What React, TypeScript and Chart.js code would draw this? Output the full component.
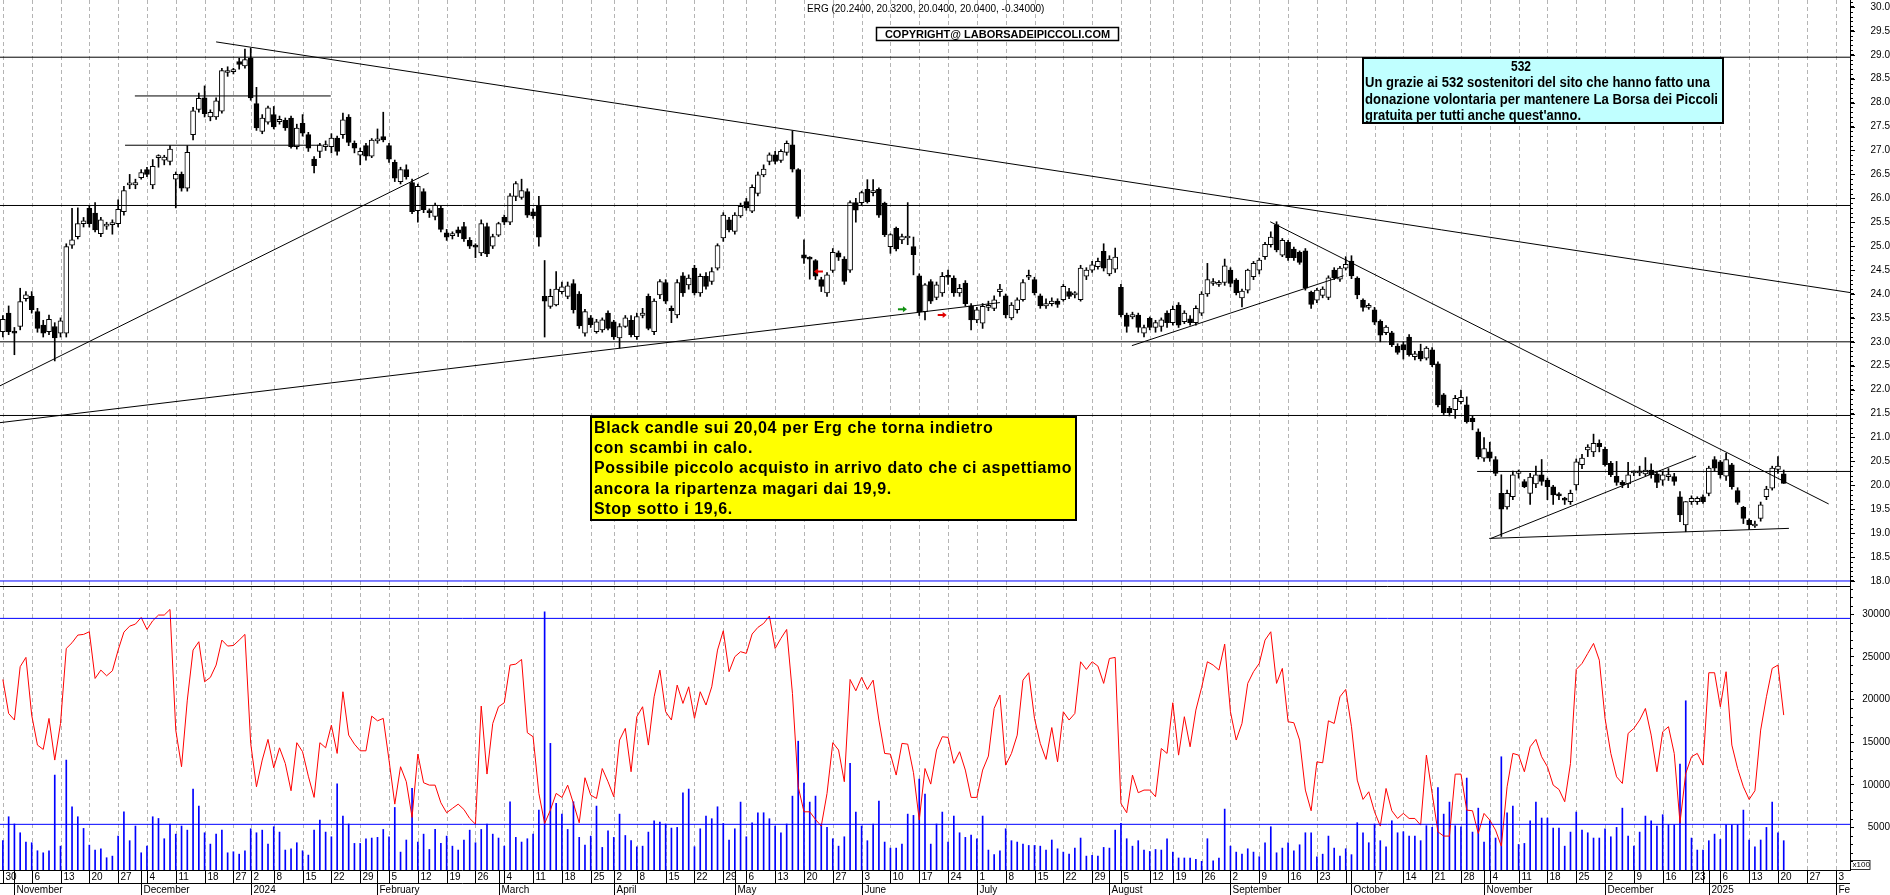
import React, { useEffect, useRef } from 'react';
import { Chart, registerables } from 'chart.js';
Chart.register(...registerables);

// ---------- calendar (Borsa Italiana trading days) ----------
const FIRST_DAY = [2023, 9, 30];
const LAST_SLOT_DAY = [2025, 1, 5];
const HOLIDAYS = ['2023-12-25', '2023-12-26', '2024-01-01', '2024-03-29', '2024-04-01', '2024-05-01', '2024-08-15', '2024-12-24', '2024-12-25', '2024-12-26', '2024-12-31', '2025-01-01'];
const MONTH_NAMES = ['January', 'February', 'March', 'April', 'May', 'June', 'July', 'August', 'September', 'October', 'November', 'December'];
const LAST_MONTH_SHORT = 'Feb';

// ---------- price data (OHLC) ----------
const OPEN = [
  23.21, 23.6, 23.2, 23.32, 23.9, 23.95, 23.63, 23.35, 23.21, 23.32,
  23.18, 23.18, 25.02, 25.2, 25.47, 25.79, 25.69, 25.26, 25.42, 25.45,
  25.47, 25.72, 26.28, 26.28, 26.43, 26.6, 26.28, 26.85, 26.8, 26.77,
  26.4, 26.5, 26.21, 27.33, 27.86, 28.1, 27.7, 27.7, 27.82, 28.63,
  28.65, 28.86, 28.77, 28.93, 27.98, 27.4, 27.59, 27.75, 27.6, 27.63,
  27.68, 27.08, 27.57, 27.33, 26.82, 26.98, 27.08, 27.08, 27.26, 27.33,
  27.7, 27.15, 26.9, 27.1, 26.88, 27.2, 27.29, 27.1, 26.75, 26.35,
  26.6, 26.33, 25.74, 26.14, 25.72, 25.62, 25.79, 25.28, 25.22, 25.34,
  25.41, 25.12, 25.0, 24.86, 25.41, 25.0, 25.23, 25.6, 25.5, 26.04,
  26.02, 26.14, 25.72, 25.84, 23.95, 23.74, 23.77, 24.05, 23.95, 24.22,
  24.0, 23.18, 23.5, 23.21, 23.25, 23.6, 23.42, 23.08, 23.32, 23.45,
  23.11, 23.55, 23.95, 23.21, 23.98, 24.24, 23.7, 23.56, 24.38, 24.19,
  24.54, 24.02, 24.37, 24.26, 24.54, 25.17, 25.55, 25.31, 25.63, 25.93,
  25.73, 26.1, 26.49, 26.77, 26.91, 26.79, 26.96, 27.12, 26.6, 24.82,
  24.75, 24.7, 24.3, 24.02, 24.49, 24.86, 24.73, 24.5, 25.91, 25.91,
  26.19, 26.12, 26.19, 25.9, 24.99, 25.37, 25.13, 25.17, 24.99, 24.38,
  23.63, 24.26, 23.93, 24.02, 24.37, 24.33, 24.02, 24.23, 23.75, 23.46,
  23.39, 23.72, 23.7, 24.05, 23.96, 23.5, 23.67, 23.88, 24.35, 24.3,
  23.96, 23.75, 23.8, 23.85, 23.88, 24.05, 23.98, 23.88, 24.37, 24.5,
  24.57, 24.89, 24.42, 24.52, 24.14, 23.56, 23.52, 23.56, 23.18, 23.49,
  23.3, 23.32, 23.6, 23.4, 23.77, 23.42, 23.48, 23.4, 23.6, 24.0,
  24.22, 24.2, 24.24, 24.5, 24.29, 23.92, 24.08, 24.36, 24.5, 24.78,
  25.03, 25.45, 24.81, 25.08, 24.94, 24.87, 24.9, 24.04, 23.87, 23.97,
  23.93, 24.5, 24.31, 24.54, 24.69, 24.33, 23.87, 23.72, 23.67, 23.43,
  23.19, 23.19, 22.91, 22.94, 23.1, 22.69, 22.8, 22.66, 22.83, 22.54,
  21.89, 21.61, 21.58, 21.75, 21.68, 21.4, 21.12, 20.57, 20.7, 20.54,
  19.83, 19.55, 19.76, 20.25, 20.08, 19.83, 20.03, 20.22, 20.11, 19.97,
  19.8, 19.7, 19.66, 20.01, 20.43, 20.74, 20.7, 20.88, 20.75, 20.46,
  20.19, 20.06, 20.03, 20.26, 20.26, 20.24, 20.32, 20.24, 20.11, 20.18,
  20.18, 19.76, 19.17, 19.66, 19.66, 19.76, 19.83, 20.54, 20.49, 20.19,
  20.43, 19.89, 19.54, 19.27, 19.15, 19.31, 19.76, 19.94, 20.33, 20.24,
];
const HIGH = [
  23.55, 23.75, 23.3, 24.12, 24.05, 24.05, 23.7, 23.45, 23.56, 23.4,
  23.5, 25.05, 25.79, 25.8, 25.6, 25.85, 25.91, 25.6, 25.5, 25.55,
  25.97, 26.25, 26.5, 26.4, 26.6, 26.65, 26.81, 26.91, 26.9, 27.1,
  26.55, 26.55, 27.1, 27.9, 28.2, 28.35, 27.85, 28.1, 28.72, 28.75,
  28.72, 28.93, 29.12, 29.14, 28.32, 27.75, 27.93, 27.92, 27.72, 27.68,
  27.72, 27.55, 27.75, 27.38, 26.87, 27.15, 27.2, 27.35, 27.3, 27.78,
  27.75, 27.2, 27.05, 27.15, 27.25, 27.45, 27.8, 27.15, 26.8, 26.65,
  26.7, 26.4, 26.3, 26.2, 25.78, 25.9, 25.85, 25.35, 25.3, 25.4,
  25.5, 25.18, 25.05, 25.55, 25.48, 25.25, 25.5, 25.65, 26.1, 26.35,
  26.4, 26.2, 25.78, 26.04, 24.7, 24.1, 24.47, 24.25, 24.25, 24.3,
  24.05, 23.68, 23.55, 23.47, 23.5, 23.65, 23.45, 23.38, 23.55, 23.55,
  23.6, 23.7, 24.0, 23.9, 24.3, 24.3, 23.75, 24.3, 24.45, 24.4,
  24.6, 24.42, 24.45, 24.55, 25.05, 25.7, 25.6, 25.7, 25.9, 26.0,
  26.28, 26.55, 26.7, 26.95, 26.98, 27.02, 27.2, 27.41, 26.62, 25.13,
  24.78, 24.72, 24.35, 24.45, 24.95, 24.9, 24.78, 25.95, 26.0, 26.15,
  26.39, 26.39, 26.22, 25.92, 25.26, 25.4, 25.25, 25.91, 25.19, 24.42,
  24.22, 24.3, 24.25, 24.45, 24.5, 24.38, 24.2, 24.28, 23.8, 23.72,
  23.8, 23.85, 23.96, 24.2, 24.0, 23.82, 23.92, 24.3, 24.5, 24.35,
  24.0, 23.9, 23.92, 23.9, 24.2, 24.12, 24.05, 24.6, 24.55, 24.68,
  24.75, 25.05, 24.8, 24.96, 24.2, 23.6, 23.62, 23.6, 23.35, 23.52,
  23.45, 23.5, 23.65, 23.75, 23.82, 23.65, 23.55, 23.75, 24.05, 24.64,
  24.32, 24.28, 24.73, 24.55, 24.32, 24.1, 24.52, 24.68, 24.75, 25.08,
  25.3, 25.51, 25.16, 25.12, 24.98, 24.9, 24.95, 24.06, 24.12, 24.15,
  24.38, 24.55, 24.58, 24.78, 24.8, 24.36, 23.9, 23.8, 23.72, 23.46,
  23.34, 23.22, 22.96, 23.0, 23.15, 22.8, 22.95, 22.9, 22.88, 22.58,
  21.92, 21.65, 21.88, 21.99, 21.85, 21.45, 21.18, 21.0, 20.9, 20.6,
  20.22, 19.9, 20.3, 20.32, 20.12, 20.25, 20.4, 20.54, 20.15, 20.0,
  19.85, 19.75, 19.9, 20.55, 20.65, 20.85, 21.07, 20.95, 20.8, 20.5,
  20.5, 20.1, 20.48, 20.3, 20.4, 20.58, 20.45, 20.3, 20.3, 20.35,
  20.25, 19.87, 19.66, 19.78, 19.76, 19.8, 20.4, 20.6, 20.52, 20.67,
  20.46, 19.95, 19.56, 19.3, 19.25, 19.65, 19.98, 20.4, 20.6, 20.32,
];
const LOW = [
  23.1, 23.15, 22.73, 23.25, 23.85, 23.6, 23.2, 23.1, 23.15, 22.6,
  23.1, 23.1, 24.95, 25.15, 25.4, 25.4, 25.3, 25.2, 25.35, 25.25,
  25.4, 25.65, 26.2, 26.2, 26.4, 26.45, 26.2, 26.65, 26.7, 26.7,
  25.8, 26.15, 26.15, 27.22, 27.8, 27.7, 27.62, 27.65, 27.78, 28.55,
  28.6, 28.7, 28.72, 28.05, 27.42, 27.35, 27.55, 27.45, 27.55, 27.42,
  27.05, 27.03, 27.3, 26.98, 26.53, 26.85, 27.0, 26.95, 26.9, 27.25,
  27.1, 26.95, 26.7, 26.8, 26.85, 27.15, 27.18, 26.75, 26.35, 26.3,
  26.4, 25.68, 25.5, 25.7, 25.6, 25.55, 25.3, 25.12, 25.15, 25.2,
  25.1, 24.95, 24.76, 24.8, 24.78, 24.95, 25.2, 25.45, 25.45, 25.95,
  25.98, 25.6, 25.58, 25.0, 23.1, 23.7, 23.75, 24.0, 23.9, 23.6,
  23.28, 23.12, 23.3, 23.18, 23.2, 23.25, 23.05, 22.87, 23.3, 23.1,
  23.05, 23.5, 23.25, 23.15, 23.9, 23.8, 23.4, 23.5, 23.95, 24.1,
  23.98, 23.95, 24.1, 24.2, 24.5, 25.1, 25.3, 25.25, 25.6, 25.75,
  25.7, 26.05, 26.45, 26.7, 26.72, 26.75, 26.9, 26.55, 25.58, 24.64,
  24.31, 24.3, 24.05, 23.95, 24.45, 24.7, 24.2, 24.45, 25.5, 25.85,
  25.9, 26.05, 25.6, 25.2, 24.85, 24.9, 25.05, 25.03, 24.4, 23.55,
  23.46, 23.8, 23.88, 23.95, 24.2, 23.95, 23.95, 23.75, 23.25, 23.4,
  23.28, 23.65, 23.65, 23.95, 23.5, 23.46, 23.6, 23.85, 24.3, 23.98,
  23.7, 23.7, 23.75, 23.72, 23.85, 23.9, 23.92, 23.85, 24.3, 24.45,
  24.52, 24.48, 24.38, 24.45, 23.52, 23.2, 23.48, 23.2, 23.1, 23.25,
  23.2, 23.22, 23.3, 23.35, 23.3, 23.38, 23.35, 23.35, 23.55, 23.95,
  24.18, 24.16, 24.18, 24.15, 23.98, 23.73, 24.02, 24.3, 24.42, 24.72,
  24.98, 24.88, 24.78, 24.7, 24.7, 24.62, 24.08, 23.7, 23.82, 23.92,
  23.88, 24.3, 24.26, 24.5, 24.32, 23.9, 23.64, 23.68, 23.36, 23.0,
  23.15, 22.9, 22.74, 22.64, 22.7, 22.62, 22.6, 22.62, 22.48, 21.64,
  21.48, 21.45, 21.4, 21.7, 21.3, 21.16, 20.55, 20.5, 20.5, 20.2,
  18.93, 19.5, 19.7, 20.15, 19.95, 19.6, 19.95, 20.0, 19.7, 19.6,
  19.7, 19.6, 19.6, 19.9, 20.35, 20.6, 20.6, 20.7, 20.4, 20.18,
  20.0, 19.95, 19.95, 20.2, 20.2, 20.2, 20.15, 19.95, 20.0, 20.1,
  20.0, 19.24, 19.03, 19.6, 19.6, 19.62, 19.78, 20.3, 20.15, 20.1,
  19.92, 19.6, 19.2, 19.08, 19.12, 19.25, 19.7, 19.9, 20.25, 20.04,
];
const CLOSE = [
  23.47, 23.21, 23.18, 23.84, 23.98, 23.67, 23.28, 23.18, 23.47, 23.08,
  23.44, 24.99, 25.13, 25.47, 25.53, 25.47, 25.34, 25.55, 25.44, 25.49,
  25.77, 26.16, 26.3, 26.33, 26.54, 26.5, 26.67, 26.87, 26.86, 27.03,
  26.5, 26.21, 26.96, 27.83, 28.09, 27.77, 27.8, 28.04, 28.67, 28.65,
  28.67, 28.8, 28.9, 28.1, 27.47, 27.68, 27.89, 27.49, 27.65, 27.47,
  27.08, 27.47, 27.36, 27.05, 26.68, 27.12, 27.12, 27.26, 26.98, 27.64,
  27.17, 27.05, 26.98, 26.88, 27.22, 27.23, 27.22, 26.82, 26.42, 26.6,
  26.45, 25.72, 26.25, 25.76, 25.7, 25.86, 25.35, 25.19, 25.24, 25.27,
  25.15, 25.0, 24.98, 25.47, 24.84, 25.2, 25.47, 25.5, 26.05, 26.31,
  26.16, 25.65, 25.63, 25.19, 23.85, 23.95, 24.1, 24.15, 24.17, 23.67,
  23.33, 23.63, 23.36, 23.42, 23.46, 23.28, 23.1, 23.32, 23.5, 23.15,
  23.53, 23.6, 23.28, 23.85, 24.26, 23.85, 23.65, 24.24, 24.02, 24.33,
  24.02, 24.37, 24.16, 24.47, 25.01, 25.65, 25.34, 25.65, 25.83, 25.8,
  26.23, 26.49, 26.61, 26.91, 26.77, 26.98, 27.15, 26.61, 25.62, 24.75,
  24.73, 24.37, 24.16, 24.4, 24.87, 24.77, 24.26, 25.91, 25.75, 26.12,
  25.93, 26.14, 25.65, 25.24, 25.24, 24.94, 25.2, 25.19, 24.82, 23.63,
  24.19, 23.85, 24.19, 24.37, 24.35, 24.02, 24.12, 23.8, 23.46, 23.67,
  23.74, 23.76, 23.88, 24.1, 23.56, 23.77, 23.88, 24.24, 24.38, 24.02,
  23.75, 23.8, 23.85, 23.78, 24.16, 23.95, 24.0, 24.54, 24.5, 24.61,
  24.68, 24.54, 24.73, 24.77, 23.56, 23.32, 23.57, 23.3, 23.3, 23.3,
  23.4, 23.46, 23.4, 23.68, 23.35, 23.6, 23.4, 23.7, 24.0, 24.3,
  24.26, 24.24, 24.59, 24.22, 24.03, 24.06, 24.5, 24.64, 24.71, 25.04,
  25.19, 24.92, 25.12, 24.76, 24.76, 24.66, 24.12, 23.78, 24.08, 24.1,
  24.34, 24.34, 24.54, 24.62, 24.38, 23.98, 23.72, 23.75, 23.41, 23.14,
  23.31, 22.94, 22.78, 22.83, 22.73, 22.75, 22.64, 22.87, 22.52, 21.68,
  21.52, 21.52, 21.82, 21.84, 21.33, 21.33, 20.6, 20.77, 20.57, 20.25,
  19.5, 19.83, 20.22, 20.25, 19.97, 20.17, 20.22, 20.08, 19.97, 19.8,
  19.78, 19.69, 19.83, 20.49, 20.57, 20.8, 20.88, 20.81, 20.43, 20.22,
  20.06, 20.01, 20.22, 20.26, 20.27, 20.32, 20.22, 20.06, 20.22, 20.22,
  20.08, 19.38, 19.66, 19.73, 19.73, 19.66, 20.36, 20.36, 20.22, 20.54,
  19.97, 19.64, 19.31, 19.17, 19.19, 19.59, 19.92, 20.36, 20.4, 20.04,
];

// ---------- volume panel ----------
const VOLUME = [
  3440, 6250, 5400, 4370, 3280, 3200, 2260, 2020, 2260, 11140,
  2800, 12900, 7420, 6250, 4880, 2920, 2340, 2490, 1440, 1630,
  3980, 6840, 3440, 5160, 2020, 2800, 6250, 6050, 3670, 5400,
  4210, 5160, 4680, 9500, 7500, 4370, 3040, 4210, 4680, 2020,
  2140, 1860, 2260, 4840, 4370, 4680, 3040, 5080, 4450, 2340,
  2490, 3200, 2260, 1750, 4680, 5860, 4450, 3900, 10120, 6330,
  5400, 3120, 3120, 3670, 3750, 3830, 4760, 3900, 7340, 2100,
  3520, 9580, 3280, 4210, 2410, 4760, 3120, 3980, 2800, 2340,
  3520, 4680, 3200, 4760, 5400, 4210, 3750, 2800, 8010, 3830,
  3280, 3670, 4210, 7030, 30300, 14860, 7810, 6560, 4760, 8010,
  3830, 2920, 3980, 7500, 2650, 4600, 3830, 6560, 4050, 3440,
  2730, 2800, 4450, 5780, 5620, 5400, 4920, 5000, 9070, 9500,
  2730, 4840, 6330, 6020, 7420, 5470, 3520, 4840, 7970, 3900,
  5550, 6720, 6720, 6020, 5160, 4370, 5400, 8670, 15120, 10200,
  7970, 8670, 5400, 5000, 3670, 2800, 3900, 12510, 6800, 5160,
  3440, 5400, 8080, 3280, 2570, 2570, 3040, 6560, 6410, 10670,
  8900, 3040, 5400, 6800, 3280, 6330, 4370, 3830, 4100, 3670,
  6330, 2340, 1800, 2260, 4840, 3440, 3280, 3040, 2880, 2880,
  2800, 2340, 3520, 2490, 2100, 1860, 2570, 3750, 1630, 1720,
  1630, 2650, 2570, 4680, 5470, 3670, 2800, 3440, 2340, 2180,
  2410, 2340, 3670, 2100, 1410, 1410, 1410, 1250, 1020, 3670,
  1080, 1410, 7150, 2800, 2100, 1860, 2490, 2100, 1560, 3200,
  5080, 2020, 2570, 3200, 2260, 2960, 4370, 4370, 1560, 1860,
  3980, 2570, 1630, 2490, 1800, 5550, 4370, 3200, 5400, 3440,
  2730, 5780, 4370, 4490, 3980, 3980, 3440, 5200, 5000, 9660,
  6560, 7970, 5200, 5080, 10790, 4450, 7260, 3280, 5780, 3750,
  13290, 6720, 7500, 3000, 3120, 5780, 7970, 6100, 6100, 4920,
  4920, 2800, 4450, 6800, 4680, 4370, 3750, 3750, 4840, 3900,
  5000, 7260, 3980, 2800, 4450, 6330, 5780, 5160, 6490, 5310,
  5310, 12430, 19860, 3750, 2340, 2340, 3440, 4210, 3590, 5310,
  5310, 5310, 7030, 3520, 2730, 3520, 5000, 7970, 4370, 3440,
];
const OSCILLATOR = [
  22360, 18370, 17600, 23860, 24950, 18180, 14660, 14150, 17790, 12900,
  17200, 26000, 26670, 27570, 27650, 27960, 22480, 23460, 22790, 23380,
  25810, 27920, 28620, 28860, 29640, 28230, 29250, 29920, 29920, 30580,
  16420, 12120, 19940, 25810, 26790, 22090, 22600, 24050, 26980, 26280,
  26350, 26980, 27650, 14860, 9770, 12900, 15330, 11990, 14340, 12510,
  9300, 14940, 13880, 11010, 8520, 14940, 14340, 17000, 13680, 20920,
  15830, 14770, 13990, 13990, 18060, 17510, 17790, 12900, 7730, 12120,
  10360, 6170, 13600, 10240, 9960, 9960, 7890, 6720, 7230, 7730,
  7100, 6050, 5380, 19240, 11260, 17200, 19160, 19630, 24050, 24160,
  24710, 16110, 15640, 8990, 5460, 7030, 8990, 8520, 9960, 7810,
  5540, 10830, 8790, 8400, 11910, 10360, 8600, 15250, 16620, 11530,
  17990, 19160, 14660, 20330, 23460, 18570, 17600, 21700, 19550, 21500,
  17790, 20920, 19360, 21500, 25810, 28080, 23270, 25030, 25620, 25420,
  27690, 28470, 28940, 29800, 26000, 27180, 28230, 20720, 9770, 6830,
  6830, 5940, 5150, 8990, 14940, 14080, 10360, 22360, 21030, 22600,
  21190, 22280, 17600, 13680, 13600, 11140, 14860, 14770, 11420, 5860,
  11910, 10080, 14080, 15640, 15560, 12510, 13880, 11730, 8520, 8520,
  11730, 13370, 18960, 20530, 12310, 13680, 15830, 22280, 23150, 17790,
  14860, 12980, 16720, 12690, 18570, 17600, 18370, 24440, 23540, 24440,
  23930, 21900, 24820, 24950, 7810, 6720, 11140, 9070, 9380, 9380,
  8600, 14260, 13680, 19630, 13480, 17990, 14460, 18770, 21420, 24440,
  24050, 23460, 26510, 18570, 15250, 17200, 21900, 23270, 24250, 26980,
  27960, 21900, 23660, 17400, 17280, 15250, 9380, 6950, 12690, 12580,
  17510, 17200, 20330, 21190, 16820, 10550, 8280, 9180, 6830, 5150,
  9570, 6950, 6050, 6640, 6050, 6050, 5270, 13480, 8990, 4480,
  3980, 3980, 11250, 11250, 7030, 6950, 4290, 6640, 5860, 4680,
  2800, 9770, 13680, 13480, 11530, 14460, 15330, 13290, 12120, 9960,
  9450, 8010, 12510, 23540, 24240, 25420, 26590, 24630, 17790, 13680,
  10940, 10160, 16030, 16620, 17600, 18960, 15830, 11530, 16220, 16820,
  13680, 5540, 11340, 13290, 13680, 12310, 23150, 23150, 19160, 23270,
  14660, 11910, 9770, 8280, 9300, 16420, 20330, 23660, 24050, 18180,
];

// ---------- axes ----------
const PRICE_TICKS = ['18.0', '18.5', '19.0', '19.5', '20.0', '20.5', '21.0', '21.5', '22.0', '22.5', '23.0', '23.5', '24.0', '24.5', '25.0', '25.5', '26.0', '26.5', '27.0', '27.5', '28.0', '28.5', '29.0', '29.5', '30.0'];
const PRICE_MIN = 17.895;
const PRICE_MAX = 30.146;
const VOLUME_TICKS = ['5000', '10000', '15000', '20000', '25000', '30000'];
const VOLUME_MAX = 33330;
const SLOT_MIN = -0.5;
const SLOT_MAX = 320.5;

// ---------- drawn studies (slot index, price) ----------
const TREND_LINES = [
  [-0.5, 28.95, 320.5, 28.95],
  [-0.5, 25.85, 320.5, 25.85],
  [-0.5, 23.0, 320.5, 23.0],
  [-0.5, 21.46, 320.5, 21.46],
  [22.9, 28.14, 56.9, 28.14],
  [21.2, 27.11, 55.2, 27.11],
  [37, 29.27, 320.5, 24.03],
  [-0.5, 22.08, 73.9, 26.53],
  [-0.5, 21.31, 173, 23.82],
  [195.9, 22.92, 232.6, 24.38],
  [219.9, 25.51, 316.8, 19.61],
  [255.8, 20.29, 320.5, 20.29],
  [258.2, 18.89, 293.8, 20.61],
  [257.9, 18.89, 309.9, 19.1],
];
const BLUE_PRICE_LEVELS = [18.0];
const VOLUME_LEVELS = [29530, 5360];
const ARROWS = [
  { i: 141.6, p: 24.47, dir: -1, color: '#e00000' },
  { i: 156, p: 23.68, dir: 1, color: '#109010' },
  { i: 162.9, p: 23.56, dir: 1, color: '#e00000' },
];

// ---------- texts ----------
const TITLE = 'ERG (20.2400, 20.3200, 20.0400, 20.0400, -0.34000)';
const COPYRIGHT = 'COPYRIGHT@ LABORSADEIPICCOLI.COM';
const NOTE_TITLE = '532';
const NOTE_LINES = [
  'Un grazie ai 532 sostenitori del sito che hanno fatto una',
  'donazione volontaria per mantenere La Borsa dei Piccoli',
  "gratuita per tutti anche quest'anno.",
];
const NOTE_WIDTHS = [345, 353, 216];
const COMMENT_LINES = [
  'Black candle sui 20,04 per Erg che torna indietro',
  'con scambi in calo.',
  'Possibile piccolo acquisto in arrivo dato che ci aspettiamo',
  'ancora la ripartenza magari dai 19,9.',
  'Stop sotto i 19,6.',
];

// ---------- derived calendar ----------
function buildDays() {
  const out = [];
  const d = new Date(Date.UTC(FIRST_DAY[0], FIRST_DAY[1], FIRST_DAY[2]));
  const end = Date.UTC(LAST_SLOT_DAY[0], LAST_SLOT_DAY[1], LAST_SLOT_DAY[2]);
  while (d.getTime() <= end) {
    const wd = d.getUTCDay();
    const iso = d.toISOString().slice(0, 10);
    if (wd !== 0 && wd !== 6 && HOLIDAYS.indexOf(iso) < 0) out.push(new Date(d.getTime()));
    d.setUTCDate(d.getUTCDate() + 1);
  }
  return out;
}
const DAYS = buildDays();
const weekKey = (d) => Math.floor(d.getTime() / 86400000) - ((d.getUTCDay() + 6) % 7);
const WEEK_STARTS = DAYS.map((_, i) => i).filter((i) => i === 0 || weekKey(DAYS[i]) !== weekKey(DAYS[i - 1]));
const MONTH_STARTS = DAYS.map((_, i) => i).filter((i) => i === 0 || DAYS[i].getUTCMonth() !== DAYS[i - 1].getUTCMonth());

const FONT = '"Liberation Sans", Arial, sans-serif';

function drawGrid(chart) {
  const { ctx, chartArea: a, scales } = chart;
  const x = scales.x;
  ctx.save();
  ctx.strokeStyle = '#b4b4b4';
  ctx.lineWidth = 1;
  ctx.setLineDash([4, 3]);
  for (const i of WEEK_STARTS) {
    const px = Math.round(x.getPixelForValue(i)) + 0.5;
    ctx.beginPath();
    ctx.moveTo(px, a.top);
    ctx.lineTo(px, a.bottom);
    ctx.stroke();
  }
  ctx.restore();
}

function lineDatasets(lines, color, yAxisID) {
  return lines.map((l) => ({
    type: 'line',
    data: [{ x: l[0], y: l[1] }, { x: l[2], y: l[3] }],
    borderColor: color,
    borderWidth: 1,
    pointRadius: 0,
    tension: 0,
    order: 0,
    yAxisID,
  }));
}

const pricePlugin = {
  id: 'priceDecor',
  beforeDatasetsDraw(chart) {
    drawGrid(chart);
  },
  afterDatasetsDraw(chart) {
    const { ctx, chartArea: a, scales } = chart;
    const x = scales.x;
    const y = scales.y;
    ctx.save();
    // minor ticks on price axis
    ctx.strokeStyle = '#000';
    ctx.lineWidth = 1;
    for (let k = 180; k <= 301; k++) {
      const py = Math.round(y.getPixelForValue(k / 10)) + 0.5;
      ctx.beginPath();
      ctx.moveTo(a.right, py);
      ctx.lineTo(a.right + (k % 5 === 0 ? 5 : 3), py);
      ctx.stroke();
    }
    // arrows
    for (const ar of ARROWS) {
      const px = x.getPixelForValue(ar.i);
      const py = y.getPixelForValue(ar.p);
      ctx.strokeStyle = ar.color;
      ctx.fillStyle = ar.color;
      ctx.lineWidth = 2;
      ctx.beginPath();
      ctx.moveTo(px - 4 * ar.dir, py);
      ctx.lineTo(px + 2 * ar.dir, py);
      ctx.stroke();
      ctx.beginPath();
      ctx.moveTo(px + 5 * ar.dir, py);
      ctx.lineTo(px + 1 * ar.dir, py - 3);
      ctx.lineTo(px + 1 * ar.dir, py + 3);
      ctx.closePath();
      ctx.fill();
    }
    // title
    ctx.fillStyle = '#000';
    ctx.textBaseline = 'middle';
    ctx.textAlign = 'left';
    ctx.font = '10px ' + FONT;
    ctx.fillText(TITLE, 807, 9);
    // copyright box
    ctx.fillStyle = '#fff';
    ctx.fillRect(876.5, 27.5, 242, 13);
    ctx.strokeStyle = '#000';
    ctx.lineWidth = 1.5;
    ctx.strokeRect(876.5, 27.5, 242, 13);
    ctx.fillStyle = '#000';
    ctx.font = 'bold 11px ' + FONT;
    ctx.textAlign = 'center';
    ctx.fillText(COPYRIGHT, 997.5, 34.5, 236);
    // cyan note
    ctx.fillStyle = '#c0ffff';
    ctx.fillRect(1363, 58, 360, 65);
    ctx.lineWidth = 2;
    ctx.strokeRect(1363, 58, 360, 65);
    ctx.fillStyle = '#000';
    ctx.font = 'bold 14px ' + FONT;
    ctx.textAlign = 'center';
    ctx.fillText(NOTE_TITLE, 1521, 67, 20);
    ctx.textAlign = 'left';
    NOTE_LINES.forEach((t, k) => ctx.fillText(t, 1365, 83.5 + k * 16.3, NOTE_WIDTHS[k]));
    // yellow comment
    ctx.fillStyle = '#ffff00';
    ctx.fillRect(591, 417, 485, 103);
    ctx.strokeRect(591, 417, 485, 103);
    ctx.fillStyle = '#000';
    ctx.font = 'bold 16px ' + FONT;
    try { ctx.letterSpacing = '0.6px'; } catch (e) { /* ignore */ }
    COMMENT_LINES.forEach((t, k) => ctx.fillText(t, 594, 428.5 + k * 20.2, 478));
    try { ctx.letterSpacing = '0px'; } catch (e) { /* ignore */ }
    ctx.restore();
  },
};

const volumePlugin = {
  id: 'volumeDecor',
  beforeDatasetsDraw(chart) {
    drawGrid(chart);
  },
  afterDraw(chart) {
    const { ctx, chartArea: a, scales } = chart;
    const x = scales.x;
    const y = scales.y;
    const H = chart.height;
    ctx.save();
    ctx.strokeStyle = '#000';
    ctx.lineWidth = 1;
    // minor volume ticks
    for (let v = 1000; v <= 33000; v += 1000) {
      if (v % 5000 === 0) continue;
      const py = Math.round(y.getPixelForValue(v)) + 0.5;
      ctx.beginPath();
      ctx.moveTo(a.right, py);
      ctx.lineTo(a.right + 3, py);
      ctx.stroke();
    }
    // top separator
    ctx.beginPath();
    ctx.moveTo(0, 0.5);
    ctx.lineTo(a.right, 0.5);
    ctx.stroke();
    // axis rows
    const rowSep = a.bottom + 13.5;
    ctx.beginPath();
    ctx.moveTo(0, a.bottom + 0.5);
    ctx.lineTo(a.right, a.bottom + 0.5);
    ctx.moveTo(0, rowSep);
    ctx.lineTo(a.right, rowSep);
    ctx.stroke();
    ctx.beginPath();
    ctx.rect(0, a.bottom, a.right, H - a.bottom);
    ctx.clip();
    ctx.fillStyle = '#000';
    ctx.font = '10px ' + FONT;
    ctx.textBaseline = 'middle';
    ctx.textAlign = 'left';
    const seps = WEEK_STARTS.concat(MONTH_STARTS).sort((p, q) => p - q);
    for (const i of WEEK_STARTS) {
      const px = Math.round(x.getPixelForValue(i)) + 0.5;
      ctx.beginPath();
      ctx.moveTo(px, a.bottom);
      ctx.lineTo(px, rowSep);
      ctx.stroke();
      const next = seps.find((s) => s > i);
      const room = next === undefined ? 99 : x.getPixelForValue(next) - px;
      if (room >= 8) ctx.fillText(String(DAYS[i].getUTCDate()), px + 2, a.bottom + 7);
    }
    for (const i of MONTH_STARTS) {
      if (i === 0) continue;
      const px = Math.round(x.getPixelForValue(i)) + 0.5;
      ctx.beginPath();
      ctx.moveTo(px, a.bottom);
      ctx.lineTo(px, H);
      ctx.stroke();
      const m = DAYS[i].getUTCMonth();
      let label = m === 0 ? String(DAYS[i].getUTCFullYear()) : MONTH_NAMES[m];
      if (i > DAYS.length - 5) label = LAST_MONTH_SHORT;
      ctx.fillText(label, px + 2, a.bottom + 20.5);
    }
    ctx.restore();
    // x100 marker
    ctx.save();
    ctx.strokeStyle = '#000';
    ctx.lineWidth = 0.8;
    ctx.strokeRect(a.right + 0.5, a.bottom - 9.5, 19.5, 9);
    ctx.fillStyle = '#000';
    ctx.font = '8px ' + FONT;
    ctx.textBaseline = 'middle';
    ctx.textAlign = 'left';
    ctx.fillText('x100', a.right + 2.5, a.bottom - 5);
    ctx.restore();
  },
};

function fitAxis(s) {
  s.width = 40;
  s.paddingTop = 0;
  s.paddingBottom = 0;
}

function priceConfig() {
  const bodies = OPEN.map((o, i) => ({ x: i, y: [Math.min(o, CLOSE[i]), Math.max(o, CLOSE[i])] }));
  const wicks = HIGH.map((h, i) => ({ x: i, y: [LOW[i], h] }));
  const bodyColors = OPEN.map((o, i) => (CLOSE[i] >= o ? '#ffffff' : '#000000'));
  return {
    type: 'bar',
    data: {
      datasets: [
        ...lineDatasets(TREND_LINES, '#000000', 'y'),
        ...lineDatasets(BLUE_PRICE_LEVELS.map((v) => [SLOT_MIN, v, SLOT_MAX, v]), '#0000ff', 'y'),
        { type: 'bar', data: bodies, backgroundColor: bodyColors, borderColor: '#000', borderWidth: 1, borderSkipped: false, barThickness: 5, grouped: false, minBarLength: 2, order: 1 },
        { type: 'bar', data: wicks, backgroundColor: '#000', borderWidth: 0, barThickness: 1, grouped: false, order: 2 },
      ],
    },
    options: {
      responsive: false,
      animation: false,
      devicePixelRatio: 1,
      events: [],
      layout: { padding: 0, autoPadding: false },
      plugins: { legend: { display: false }, tooltip: { enabled: false } },
      scales: {
        x: { type: 'linear', min: SLOT_MIN, max: SLOT_MAX, display: false, offset: false },
        y: {
          type: 'linear',
          position: 'right',
          min: PRICE_MIN,
          max: PRICE_MAX,
          bounds: 'data',
          afterFit: fitAxis,
          afterBuildTicks: (s) => { s.ticks = PRICE_TICKS.map((t) => ({ value: parseFloat(t) })); },
          ticks: { autoSkip: false, crossAlign: 'far', padding: 13, color: '#000', font: { family: FONT, size: 10 }, callback: (v) => Number(v).toFixed(1) },
          grid: { drawOnChartArea: false, drawTicks: true, tickLength: 4, color: '#000' },
          border: { display: true, color: '#000', width: 1 },
        },
      },
    },
    plugins: [pricePlugin],
  };
}

function volumeConfig() {
  return {
    type: 'bar',
    data: {
      datasets: [
        ...lineDatasets(VOLUME_LEVELS.map((v) => [SLOT_MIN, v, SLOT_MAX, v]), '#0000ff', 'y'),
        { type: 'line', data: OSCILLATOR.map((v, i) => ({ x: i, y: v })), borderColor: '#ff0000', borderWidth: 1, pointRadius: 0, tension: 0, order: 0 },
        { type: 'bar', data: VOLUME.map((v, i) => ({ x: i, y: v })), backgroundColor: '#0000ff', borderWidth: 0, barThickness: 1, grouped: false, order: 2 },
      ],
    },
    options: {
      responsive: false,
      animation: false,
      devicePixelRatio: 1,
      events: [],
      layout: { padding: { top: 0, left: 0, right: 0, bottom: 25 }, autoPadding: false },
      plugins: { legend: { display: false }, tooltip: { enabled: false } },
      scales: {
        x: { type: 'linear', min: SLOT_MIN, max: SLOT_MAX, display: false, offset: false },
        y: {
          type: 'linear',
          position: 'right',
          min: 0,
          max: VOLUME_MAX,
          bounds: 'data',
          afterFit: fitAxis,
          afterBuildTicks: (s) => { s.ticks = VOLUME_TICKS.map((t) => ({ value: Number(t) })); },
          ticks: { autoSkip: false, crossAlign: 'far', padding: 5, color: '#000', font: { family: FONT, size: 10 }, callback: (v) => String(v) },
          grid: { drawOnChartArea: false, drawTicks: true, tickLength: 4, color: '#000' },
          border: { display: true, color: '#000', width: 1 },
        },
      },
    },
    plugins: [volumePlugin],
  };
}

export default function App() {
  const priceRef = useRef(null);
  const volRef = useRef(null);
  useEffect(() => {
    document.body.style.margin = '0';
    const c1 = new Chart(priceRef.current, priceConfig());
    const c2 = new Chart(volRef.current, volumeConfig());
    return () => {
      c1.destroy();
      c2.destroy();
    };
  }, []);
  return (
    <div style={{ position: 'absolute', left: 0, top: 0, width: 1890, height: 895, background: '#fff' }}>
      <canvas ref={priceRef} width={1890} height={586} style={{ position: 'absolute', left: 0, top: 0 }} />
      <canvas ref={volRef} width={1890} height={309} style={{ position: 'absolute', left: 0, top: 586 }} />
    </div>
  );
}
